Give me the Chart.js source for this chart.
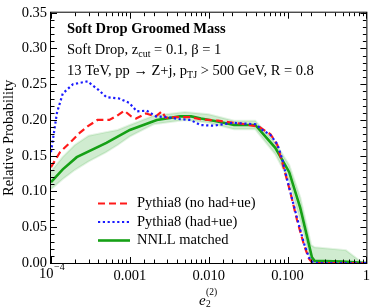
<!DOCTYPE html>
<html lang="en">
<head>
<meta charset="UTF-8">
<title>Soft Drop Groomed Mass</title>
<script src="https://cdn.jsdelivr.net/npm/chart.js"></script>
<style>
  html, body { margin: 0; padding: 0; background: #fff; }
</style>
</head>
<body>
<canvas id="chart" width="374" height="308"></canvas>
<script>
// e2^(2) values and relative probabilities
const noHadX = [1e-4, 1.3e-4, 1.73e-4, 2.31e-4, 2.91e-4, 3.88e-4, 5.49e-4, 6.9e-4, 8.5e-4, 1.04e-3, 1.2e-3, 1.6e-3, 2.14e-3, 2.54e-3, 2.85e-3, 3.8e-3, 5.86e-3, 7.82e-3, 1.31e-2, 1.52e-2, 2.95e-2, 4.42e-2, 6.08e-2, 7.43e-2, 8.59e-2, 0.108, 0.132, 0.162, 0.187, 0.204, 0.24, 1];
const noHadY = [0.134, 0.155, 0.168, 0.182, 0.191, 0.2, 0.2, 0.206, 0.213, 0.205, 0.202, 0.209, 0.205, 0.212, 0.203, 0.204, 0.204, 0.201, 0.199, 0.198, 0.194, 0.19, 0.18, 0.165, 0.14, 0.1, 0.06, 0.025, 0.006, 0.001, 0, 0];

const hadX = [1e-4, 1.19e-4, 1.41e-4, 1.9e-4, 2.91e-4, 4.0e-4, 5.04e-4, 7.33e-4, 9.8e-4, 1.23e-3, 1.64e-3, 2.14e-3, 2.93e-3, 4.39e-3, 5.86e-3, 7.82e-3, 1.14e-2, 1.31e-2, 2.03e-2, 3.94e-2, 4.82e-2, 6.08e-2, 7.43e-2, 8.59e-2, 9.37e-2, 0.108, 0.132, 0.162, 0.187, 0.204, 0.24, 1];
const hadY = [0.155, 0.21, 0.237, 0.25, 0.254, 0.242, 0.232, 0.23, 0.224, 0.212, 0.213, 0.205, 0.204, 0.201, 0.2, 0.193, 0.192, 0.193, 0.196, 0.194, 0.186, 0.179, 0.166, 0.145, 0.127, 0.1, 0.063, 0.027, 0.008, 0.002, 0, 0];

const nnllX = [1e-4, 1.41e-4, 2.12e-4, 5.04e-4, 1e-3, 2.2e-3, 4.3e-3, 6e-3, 8e-3, 1.3e-2, 2.1e-2, 3.9e-2, 7e-2, 0.105, 0.145, 0.204, 0.22, 0.5, 1];
const nnllY = [0.113, 0.131, 0.148, 0.168, 0.186, 0.2, 0.205, 0.205, 0.202, 0.198, 0.193, 0.193, 0.161, 0.127, 0.077, 0.008, 0.003, 0.002, 0];

const bandX = [1e-4, 1.4e-4, 2e-4, 3e-4, 5e-4, 7e-4, 1e-3, 2e-3, 5e-3, 1e-2, 2.1e-2, 3.9e-2, 7e-2, 0.105, 0.145, 0.2, 0.22, 0.55, 0.9];
const bandLow = [0.103, 0.117, 0.13, 0.142, 0.155, 0.165, 0.177, 0.194, 0.2, 0.196, 0.187, 0.187, 0.152, 0.115, 0.06, 0, 0, 0, 0];
const bandHigh = [0.128, 0.148, 0.165, 0.178, 0.183, 0.186, 0.193, 0.206, 0.211, 0.208, 0.199, 0.199, 0.168, 0.137, 0.092, 0.025, 0.022, 0.018, 0];

const xMajor = [1e-4, 1e-3, 1e-2, 1e-1, 1];
const xLabels = ['', '0.001', '0.010', '0.100', '1'];
const yMin = 0, yMax = 0.35, yStep = 0.05;

const serif = '"Liberation Serif", "DejaVu Serif", serif';
const RED = '#ff1a1a', BLUE = '#1a1aff', GREEN = '#15a015';

const pts = (xs, ys) => xs.map((x, i) => ({ x: x, y: ys[i] }));

function rich(ctx, x, y, parts) {
  for (const p of parts) {
    ctx.font = p.f;
    ctx.fillText(p.t, x, y + (p.dy || 0));
    x += ctx.measureText(p.t).width;
  }
}

const decor = {
  id: 'decor',
  afterDraw(chart) {
    const { ctx, chartArea: a, scales: { x, y } } = chart;
    ctx.save();
    ctx.strokeStyle = '#000';
    ctx.lineWidth = 1;
    ctx.strokeRect(a.left - 0.5, a.top - 0.5, a.right - a.left + 1, a.bottom - a.top + 1);

    // ticks, pointing inward on all four sides
    ctx.beginPath();
    for (const t of x.ticks) {
      const lg = Math.log10(t.value);
      const big = Math.abs(lg - Math.round(lg)) < 1e-6;
      const len = big ? 6 : 3.5;
      const px = Math.round(x.getPixelForValue(t.value)) + 0.5;
      ctx.moveTo(px, a.bottom); ctx.lineTo(px, a.bottom - len);
      ctx.moveTo(px, a.top); ctx.lineTo(px, a.top + len);
    }
    for (let i = 0; i <= Math.round((yMax - yMin) / 0.01); i++) {
      const v = yMin + i * 0.01;
      const len = i % 5 === 0 ? 6 : 3.5;
      const py = Math.round(y.getPixelForValue(v)) + 0.5;
      ctx.moveTo(a.left, py); ctx.lineTo(a.left + len, py);
      ctx.moveTo(a.right, py); ctx.lineTo(a.right - len, py);
    }
    ctx.stroke();

    ctx.fillStyle = '#000';
    ctx.textBaseline = 'alphabetic';
    ctx.textAlign = 'left';

    // 10^-4 label
    const p0 = x.getPixelForValue(xMajor[0]);
    ctx.font = '14.5px ' + serif;
    ctx.fillText('10', p0 - 12, 278);
    ctx.font = '10px ' + serif;
    ctx.fillText('\u22124', p0 + 3, 270);

    // axis titles
    ctx.save();
    ctx.translate(13, (a.top + a.bottom) / 2);
    ctx.rotate(-Math.PI / 2);
    ctx.textAlign = 'center';
    ctx.font = '14.5px ' + serif;
    ctx.fillText('Relative Probability', 0, 0);
    ctx.restore();

    ctx.font = 'italic 15px ' + serif;
    ctx.fillText('e', 199, 305);
    ctx.font = '9.5px ' + serif;
    ctx.fillText('(2)', 206, 295);
    ctx.fillText('2', 206, 307);

    // annotations
    const f = '14.5px ' + serif, s = '10px ' + serif;
    ctx.font = 'bold 14.5px ' + serif;
    ctx.fillText('Soft Drop Groomed Mass', 67, 33);
    rich(ctx, 67, 54, [
      { t: 'Soft Drop, z', f: f },
      { t: 'cut', f: s, dy: 3 },
      { t: ' = 0.1, \u03b2 = 1', f: f }
    ]);
    rich(ctx, 67, 75, [
      { t: '13 TeV, pp \u2192 Z+j, p', f: f },
      { t: 'TJ', f: s, dy: 3 },
      { t: ' > 500 GeV, R = 0.8', f: f }
    ]);

    // legend
    const rows = [
      { c: RED, d: [7, 4], w: 2.2, t: 'Pythia8 (no had+ue)' },
      { c: BLUE, d: [2.2, 2.6], w: 2.2, t: 'Pythia8 (had+ue)' },
      { c: GREEN, d: [], w: 2.6, t: 'NNLL matched' }
    ];
    rows.forEach((r, i) => {
      const ly = 203.5 + i * 18.5;
      ctx.beginPath();
      ctx.strokeStyle = r.c;
      ctx.lineWidth = r.w;
      ctx.setLineDash(r.d);
      ctx.moveTo(98, ly); ctx.lineTo(130, ly);
      ctx.stroke();
      ctx.setLineDash([]);
      ctx.font = '14.5px ' + serif;
      ctx.textBaseline = 'middle';
      ctx.fillText(r.t, 137, ly);
    });
    ctx.restore();
  }
};

new Chart(document.getElementById('chart'), {
  type: 'line',
  data: {
    datasets: [
      {
        label: 'band low', data: pts(bandX, bandLow),
        borderColor: 'rgba(21,160,21,0.12)', borderWidth: 2, pointRadius: 0, fill: false, order: 5
      },
      {
        label: 'band high', data: pts(bandX, bandHigh),
        borderColor: 'rgba(21,160,21,0.12)', borderWidth: 2, pointRadius: 0,
        fill: '-1', backgroundColor: 'rgba(21,160,21,0.2)', order: 4
      },
      {
        label: 'NNLL matched', data: pts(nnllX, nnllY),
        borderColor: GREEN, borderWidth: 2.6, pointRadius: 0, fill: false, order: 3
      },
      {
        label: 'Pythia8 (no had+ue)', data: pts(noHadX, noHadY),
        borderColor: RED, borderWidth: 2.2, borderDash: [7, 4], pointRadius: 0, fill: false, order: 2
      },
      {
        label: 'Pythia8 (had+ue)', data: pts(hadX, hadY),
        borderColor: BLUE, borderWidth: 2.2, borderDash: [2.2, 2.6], pointRadius: 0, fill: false, order: 1
      }
    ]
  },
  options: {
    responsive: false,
    animation: false,
    devicePixelRatio: 1,
    layout: { padding: { top: 7, right: 4, left: 0, bottom: 0 } },
    plugins: { legend: { display: false }, tooltip: { enabled: false } },
    elements: { line: { tension: 0 } },
    scales: {
      x: {
        type: 'logarithmic', min: 1e-4, max: 1,
        grid: { display: false, drawTicks: false },
        border: { display: false },
        afterFit: s => { s.height = 45; },
        ticks: {
          autoSkip: false, maxRotation: 0, padding: 4, color: '#000',
          font: { family: serif, size: 14.5 },
          callback: v => {
            const i = xMajor.findIndex(m => Math.abs(Math.log10(m) - Math.log10(v)) < 1e-6);
            return i < 0 ? '' : xLabels[i];
          }
        }
      },
      y: {
        min: yMin, max: yMax,
        grid: { display: false, drawTicks: false },
        border: { display: false },
        afterFit: s => { s.width = 51; },
        ticks: {
          stepSize: yStep, padding: 4, color: '#000',
          font: { family: serif, size: 14.5 },
          callback: v => v.toFixed(2)
        }
      }
    }
  },
  plugins: [decor]
});
</script>
</body>
</html>
